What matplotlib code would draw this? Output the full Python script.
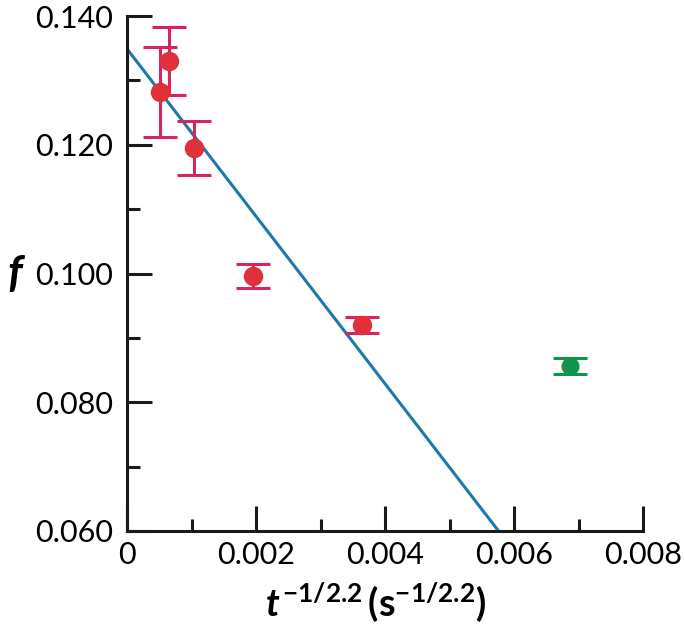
import numpy as np
import matplotlib
matplotlib.use("Agg")
import matplotlib.pyplot as plt
from matplotlib.ticker import MultipleLocator, FixedFormatter, FixedLocator

plt.rcParams['font.family'] = ['Lato', 'DejaVu Sans']
plt.rcParams['mathtext.fontset'] = 'custom'
plt.rcParams['mathtext.rm'] = 'Lato'
plt.rcParams['mathtext.bf'] = 'Lato:bold'
plt.rcParams['mathtext.it'] = 'Lato:italic'
plt.rcParams['mathtext.bfit'] = 'Lato:bold:italic'

# red points (fit) and one green outlier
x_red = [0.00051, 0.00065, 0.00104, 0.00195, 0.00364]
y_red = [0.1282, 0.1330, 0.1195, 0.0996, 0.0920]
err_red = [0.0070, 0.0053, 0.0042, 0.0018, 0.0012]
x_green = [0.00687]
y_green = [0.0856]
err_green = [0.0012]

# linear fit
fit_x = [0.0, 0.00576]
fit_y = [0.1349, 0.0600]

xticks = [0, 0.002, 0.004, 0.006, 0.008]
xticklabels = ['0', '0.002', '0.004', '0.006', '0.008']
yticks = [0.060, 0.080, 0.100, 0.120, 0.140]
yticklabels = ['0.060', '0.080', '0.100', '0.120', '0.140']

fig = plt.figure(figsize=(6.85, 6.31), dpi=100)
ax = fig.add_axes([0.1854, 0.1585, 0.7533, 0.8161])

ax.plot(fit_x, fit_y, color='#1f78a8', lw=2.2, zorder=2)

ax.errorbar(x_red, y_red, yerr=err_red, fmt='none', ecolor='#d8245e',
            elinewidth=2.2, capsize=12, capthick=2.2, zorder=3)
ax.plot(x_red, y_red, 'o', color='#e2303a', ms=14, mec='none', zorder=4)
ax.errorbar(x_green, y_green, yerr=err_green, fmt='none', ecolor='#12934a',
            elinewidth=2.2, capsize=12, capthick=2.2, zorder=3)
ax.plot(x_green, y_green, 'o', color='#12934a', ms=13, mec='none', zorder=4)

ax.set_xlim(0, 0.008)
ax.set_ylim(0.060, 0.140)

ax.xaxis.set_major_locator(FixedLocator(xticks))
ax.xaxis.set_major_formatter(FixedFormatter(xticklabels))
ax.xaxis.set_minor_locator(MultipleLocator(0.001))
ax.yaxis.set_major_locator(FixedLocator(yticks))
ax.yaxis.set_major_formatter(FixedFormatter(yticklabels))
ax.yaxis.set_minor_locator(MultipleLocator(0.010))

for s in ['top', 'right']:
    ax.spines[s].set_visible(False)
for s in ['left', 'bottom']:
    ax.spines[s].set_linewidth(2.2)
    ax.spines[s].set_color('#1a1a1a')

ax.tick_params(which='major', direction='in', length=18, width=2.2,
               color='#1a1a1a', labelsize=22)
ax.tick_params(which='minor', direction='in', length=9, width=2.2, color='#1a1a1a')
ax.tick_params(axis='y', which='major', pad=10)
ax.tick_params(axis='x', which='major', pad=7)

fig.text(0.548, 0.045,
         r'$\mathbfit{t}^{\,\mathbf{-1/2.2}}\,\mathbf{(s}^{\mathbf{-1/2.2}}\mathbf{)}$',
         fontsize=27, ha='center', va='center')
fig.text(0.022, 0.566, 'f', fontsize=32, fontweight='bold', fontstyle='italic',
         ha='center', va='center')

fig.savefig('out.png', dpi=100)
